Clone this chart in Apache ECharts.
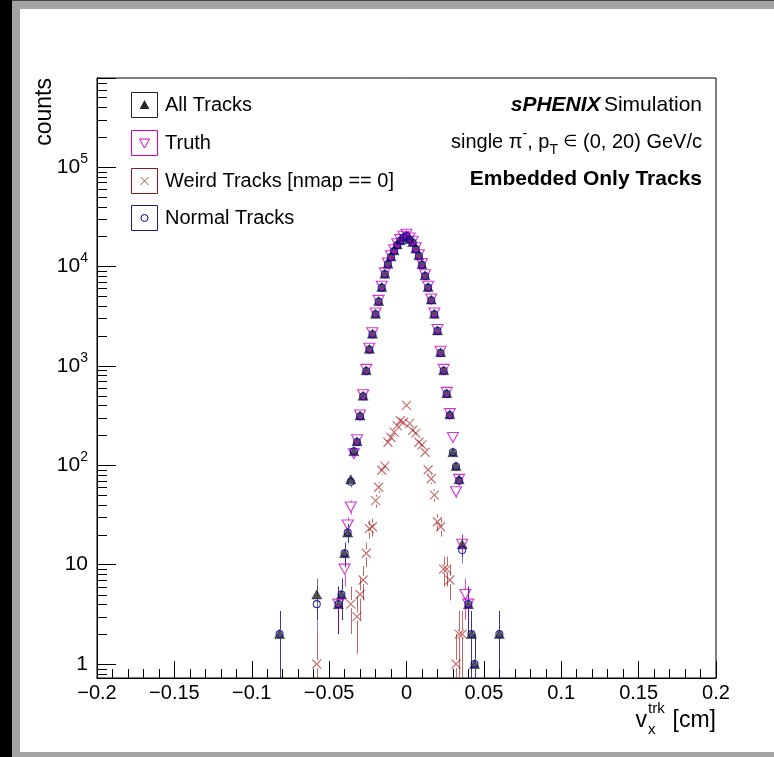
<!DOCTYPE html>
<html>
<head>
<meta charset="utf-8">
<script src="https://cdn.jsdelivr.net/npm/echarts@6/dist/echarts.min.js"></script>
<style>
  html, body { margin: 0; padding: 0; background: #fff; }
  #chart { width: 774px; height: 757px; }
</style>
</head>
<body>
<div id="chart"></div>
<script>
// Track vertex x distribution, bin centres in cm
const allX = [-0.082, -0.058, -0.044, -0.042, -0.040, -0.038, -0.036, -0.034, -0.032, -0.030,
  -0.028, -0.026, -0.024, -0.022, -0.020, -0.018, -0.016, -0.014, -0.012, -0.010,
  -0.008, -0.006, -0.004, -0.002, 0.000, 0.002, 0.004, 0.006, 0.008, 0.010,
  0.012, 0.014, 0.016, 0.018, 0.020, 0.022, 0.024, 0.026, 0.028, 0.030,
  0.032, 0.034, 0.036, 0.040, 0.042, 0.044, 0.060];
const allY = [2, 5, 4, 5, 13, 21, 72, 138, 174, 316,
  500, 900, 1480, 2100, 3340, 4480, 6200, 8450, 10640, 12600,
  14500, 16600, 18300, 19800, 20600, 18900, 17600, 15100, 12900, 10500,
  8120, 6200, 4630, 3340, 2270, 1370, 900, 530, 325, 135,
  98, 72, 16, 4, 2, 1, 2];

const truthX = [-0.044, -0.040, -0.038, -0.036, -0.034, -0.032, -0.030, -0.028, -0.026, -0.024,
  -0.022, -0.020, -0.018, -0.016, -0.014, -0.012, -0.010, -0.008, -0.006, -0.004,
  -0.002, 0.000, 0.002, 0.004, 0.006, 0.008, 0.010, 0.012, 0.014, 0.016,
  0.018, 0.020, 0.022, 0.024, 0.026, 0.028, 0.030, 0.032, 0.034, 0.036,
  0.038, 0.040];
const truthY = [4, 9, 25, 38, 130, 180, 320, 510, 920, 1500,
  2150, 3400, 4550, 6300, 8600, 10800, 12800, 14700, 16900, 18600,
  20100, 21000, 19300, 17900, 15400, 13100, 10700, 8250, 6300, 4700,
  3400, 2320, 1400, 920, 540, 330, 190, 54, 72, 16,
  5, 4];

const weirdX = [-0.058, -0.036, -0.032, -0.030, -0.028, -0.026, -0.024, -0.022, -0.020, -0.018,
  -0.016, -0.014, -0.012, -0.010, -0.008, -0.006, -0.004, -0.002, 0.000, 0.002,
  0.004, 0.006, 0.008, 0.010, 0.012, 0.014, 0.016, 0.018, 0.020, 0.022,
  0.024, 0.026, 0.028, 0.032, 0.034, 0.036];
const weirdY = [1, 4, 3, 5, 7, 13, 23, 24, 44, 60,
  89, 98, 170, 190, 215, 250, 280, 270, 400, 263,
  224, 210, 170, 160, 135, 90, 73, 50, 27, 24,
  9, 9, 7, 1, 2, 2];

const normalX = allX;
const normalY = [2, 4, 4, 5, 13, 21, 68, 138, 171, 311,
  493, 887, 1457, 2076, 3296, 4420, 6111, 8352, 10470, 12410,
  14285, 16350, 18030, 19530, 20200, 18640, 17380, 14890, 12730, 10340,
  7985, 6110, 4557, 3290, 2243, 1346, 891, 521, 318, 135,
  97, 70, 14, 4, 2, 1, 2];

const legendLabels = ['All Tracks', 'Truth', 'Weird Tracks [nmap == 0]', 'Normal Tracks'];

// axis ranges
const X_MIN = -0.2, X_MAX = 0.2, X_STEP = 0.05;
const Y_MIN = 0.723, Y_MAX = 7.85e5;
const yDecades = [-1, 0, 1, 2, 3, 4, 5];
const yMinorMant = [2, 3, 4, 5, 6, 7, 8, 9];

const FONT = 'Liberation Sans, Arial, Helvetica, sans-serif';
const C_ALL = '#262626', C_TRUTH = '#cc00cc', C_WEIRD = 'rgba(153,0,0,0.7)', C_NORMAL = '#000099';

const yMinorTicks = [];
yDecades.forEach(d => yMinorMant.forEach(m => {
  const v = m * Math.pow(10, d);
  if (v > Y_MIN && v < Y_MAX) yMinorTicks.push([X_MIN, v]);
}));

function pairs(xs, ys) { return xs.map((x, i) => [x, ys[i]]); }

// Poisson error bars, interrupted around the marker
function errorBars(name, xs, ys, color, gap) {
  return {
    type: 'custom', name: name + ' errors', silent: true, clip: true,
    data: pairs(xs, ys),
    renderItem(params, api) {
      const x = api.value(0), y = api.value(1);
      const e = Math.sqrt(y);
      const lo = Math.max(y - e, Y_MIN), hi = y + e;
      const c = api.coord([x, y]);
      const pl = api.coord([x, lo]), ph = api.coord([x, hi]);
      const px = Math.round(c[0]) + 0.5;
      const kids = [];
      if (c[1] - gap > ph[1]) kids.push({ type: 'line', shape: { x1: px, y1: ph[1], x2: px, y2: c[1] - gap }, style: { stroke: color, lineWidth: 1 } });
      if (pl[1] > c[1] + gap) kids.push({ type: 'line', shape: { x1: px, y1: c[1] + gap, x2: px, y2: pl[1] }, style: { stroke: color, lineWidth: 1 } });
      return { type: 'group', children: kids };
    }
  };
}

const X_PATH = 'path://M0,0L10,10M10,0L0,10';

function fmtX(v) {
  const r = Math.round(v * 1000) / 1000;
  if (r === 0) return '0';
  return (r < 0 ? '\u2212' : '') + Math.abs(r);
}
function fmtY(v) {
  const e = Math.log10(v), r = Math.round(e);
  if (Math.abs(e - r) > 1e-6) return '';
  if (r === 0) return '{b|1}';
  if (r === 1) return '{b|10}';
  return '{b|10}{s|' + r + '}';
}

// page frame
const graphics = [
  { type: 'rect', shape: { x: 0, y: 0, width: 12, height: 757 }, style: { fill: '#000' }, z: 100 },
  { type: 'rect', shape: { x: 12, y: 0, width: 8, height: 757 }, style: { fill: '#a3a3a3' }, z: 100 },
  { type: 'rect', shape: { x: 12, y: 0, width: 762, height: 9 }, style: { fill: '#a3a3a3' }, z: 100 },
  { type: 'rect', shape: { x: 12, y: 0, width: 762, height: 1 }, style: { fill: '#444' }, z: 100 },
  { type: 'rect', shape: { x: 12, y: 752, width: 762, height: 5 }, style: { fill: '#a3a3a3' }, z: 100 }
];

// legend boxes
const legendRows = [105, 143, 181, 218];
const legendBorder = [C_ALL, C_TRUTH, '#8b1a1a', '#1a1a80'];
legendRows.forEach((cy, i) => {
  graphics.push({ type: 'rect', shape: { x: 131.5, y: cy - 12.5, width: 26, height: 25 },
    style: { fill: '#fff', stroke: legendBorder[i], lineWidth: 1 }, z: 50 });
  graphics.push({ type: 'text', x: 165, y: cy, z: 50,
    style: { text: legendLabels[i], font: '20px ' + FONT, fill: '#000', verticalAlign: 'middle', align: 'left' } });
});
const lx = 144.5;
graphics.push({ type: 'polygon', z: 51, shape: { points: [[lx, legendRows[0] - 5], [lx + 5, legendRows[0] + 4], [lx - 5, legendRows[0] + 4]] }, style: { fill: C_ALL } });
graphics.push({ type: 'polygon', z: 51, shape: { points: [[lx - 5, legendRows[1] - 4], [lx + 5, legendRows[1] - 4], [lx, legendRows[1] + 5]] }, style: { fill: 'none', stroke: C_TRUTH, lineWidth: 1 } });
graphics.push({ type: 'polyline', z: 51, shape: { points: [[lx - 4, legendRows[2] - 4], [lx + 4, legendRows[2] + 4]] }, style: { stroke: C_WEIRD, lineWidth: 1 } });
graphics.push({ type: 'polyline', z: 51, shape: { points: [[lx + 4, legendRows[2] - 4], [lx - 4, legendRows[2] + 4]] }, style: { stroke: C_WEIRD, lineWidth: 1 } });
graphics.push({ type: 'circle', z: 51, shape: { cx: lx, cy: legendRows[3], r: 3.5 }, style: { fill: 'none', stroke: C_NORMAL, lineWidth: 1 } });

// labels in the top right corner
graphics.push({ type: 'text', x: 702, y: 105, z: 50, style: {
  text: '{bi|sPHENIX} {n|Simulation}', align: 'right', verticalAlign: 'middle',
  rich: { bi: { font: 'italic bold 21px ' + FONT, fill: '#000' }, n: { font: '21px ' + FONT, fill: '#000' } } } });
graphics.push({ type: 'text', x: 702, y: 142, z: 50, style: {
  text: '{n|single π}{s|-}{n|, p}{d|T}{n| }{e|∈}{n| (0, 20) GeV/c}', align: 'right', verticalAlign: 'middle',
  rich: {
    n: { font: '20px ' + FONT, fill: '#000', lineHeight: 30 },
    e: { font: '16px DejaVu Sans, ' + FONT, fill: '#000', lineHeight: 30 },
    s: { font: '14px ' + FONT, fill: '#000', lineHeight: 14, verticalAlign: 'top' },
    d: { font: '14px ' + FONT, fill: '#000', lineHeight: 12, verticalAlign: 'bottom' }
  } } });
graphics.push({ type: 'text', x: 702, y: 179, z: 50, style: {
  text: 'Embedded Only Tracks', align: 'right', verticalAlign: 'middle', font: 'bold 21px ' + FONT, fill: '#000' } });

// axis titles
graphics.push({ type: 'text', x: 45, y: 78, rotation: Math.PI / 2, z: 50, style: {
  text: 'counts', align: 'right', verticalAlign: 'middle', font: '23px ' + FONT, fill: '#000' } });
graphics.push({ type: 'text', x: 716, y: 721, z: 50, style: { text: '[cm]', align: 'right', verticalAlign: 'middle', font: '23px ' + FONT, fill: '#000' } });
graphics.push({ type: 'text', x: 647, y: 721, z: 50, style: { text: 'v', align: 'right', verticalAlign: 'middle', font: '23px ' + FONT, fill: '#000' } });
graphics.push({ type: 'text', x: 648, y: 709, z: 50, style: { text: 'trk', align: 'left', verticalAlign: 'middle', font: '15px ' + FONT, fill: '#000' } });
graphics.push({ type: 'text', x: 648, y: 730, z: 50, style: { text: 'x', align: 'left', verticalAlign: 'middle', font: '15px ' + FONT, fill: '#000' } });

const chart = echarts.init(document.getElementById('chart'), null, { renderer: 'canvas' });
chart.setOption({
  animation: false,
  backgroundColor: '#fff',
  textStyle: { fontFamily: FONT },
  grid: { left: 97, right: 58, top: 78, bottom: 79, containLabel: false, outerBoundsMode: 'none',
    show: true, borderColor: '#000', borderWidth: 1, backgroundColor: 'transparent' },
  xAxis: {
    type: 'value', min: X_MIN, max: X_MAX, interval: X_STEP,
    axisLine: { onZero: false, lineStyle: { color: '#000', width: 1 } },
    axisTick: { inside: true, length: 17, lineStyle: { color: '#000' } },
    minorTick: { show: true, splitNumber: 5, length: 9, lineStyle: { color: '#000' } },
    splitLine: { show: false }, minorSplitLine: { show: false },
    axisLabel: { color: '#000', fontSize: 20, margin: 5, formatter: fmtX, showMinLabel: true, showMaxLabel: true }
  },
  yAxis: {
    type: 'log', logBase: 10, min: Y_MIN, max: Y_MAX,
    axisLine: { show: true, onZero: false, lineStyle: { color: '#000', width: 1 } },
    axisTick: { show: true, inside: true, length: 19, lineStyle: { color: '#000' } },
    minorTick: { show: false }, splitLine: { show: false },
    axisLabel: {
      color: '#000', margin: 9, formatter: fmtY,
      rich: {
        b: { fontSize: 21, lineHeight: 30, color: '#000' },
        s: { fontSize: 14, lineHeight: 14, verticalAlign: 'top', color: '#000' }
      }
    }
  },
  graphic: graphics,
  series: [
    {
      type: 'custom', name: 'y minor ticks', silent: true, clip: false, data: yMinorTicks,
      renderItem(params, api) {
        const p = api.coord([api.value(0), api.value(1)]);
        const y = Math.round(p[1]) + 0.5;
        return { type: 'line', shape: { x1: p[0], y1: y, x2: p[0] + 10, y2: y }, style: { stroke: '#000', lineWidth: 1 } };
      }
    },
    errorBars('All Tracks', allX, allY, 'rgba(0,0,0,0.55)', 5),
    errorBars('Truth', truthX, truthY, 'rgba(204,0,204,0.7)', 5),
    errorBars('Weird Tracks', weirdX, weirdY, 'rgba(153,0,0,0.6)', 4),
    errorBars('Normal Tracks', normalX, normalY, 'rgba(0,0,153,0.5)', 4),
    {
      type: 'scatter', name: legendLabels[0], data: pairs(allX, allY),
      symbol: 'triangle', symbolSize: [10, 9],
      itemStyle: { color: C_ALL, borderColor: '#000', borderWidth: 0.5 }
    },
    {
      type: 'scatter', name: legendLabels[1], data: pairs(truthX, truthY),
      symbol: 'triangle', symbolRotate: 180, symbolSize: [11, 10],
      itemStyle: { color: 'rgba(0,0,0,0)', borderColor: C_TRUTH, borderWidth: 1.1 }
    },
    {
      type: 'scatter', name: legendLabels[2], data: pairs(weirdX, weirdY),
      symbol: X_PATH, symbolSize: 9,
      itemStyle: { color: 'rgba(0,0,0,0)', borderColor: C_WEIRD, borderWidth: 1.2 }
    },
    {
      type: 'scatter', name: legendLabels[3], data: pairs(normalX, normalY),
      symbol: 'circle', symbolSize: 7,
      itemStyle: { color: 'rgba(0,0,0,0)', borderColor: C_NORMAL, borderWidth: 1.1 }
    }
  ]
});
</script>
</body>
</html>
